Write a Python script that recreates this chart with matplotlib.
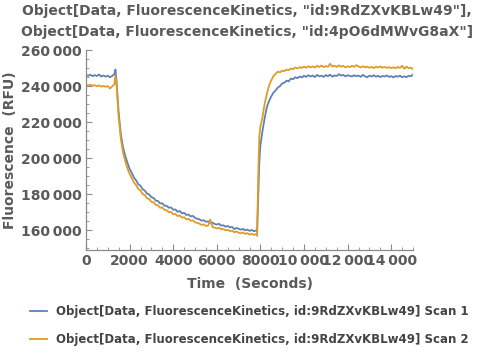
import matplotlib
matplotlib.use("Agg")
import matplotlib.pyplot as plt
from matplotlib.ticker import MultipleLocator, FuncFormatter

# time stamps (s)
time_s = (list(range(0, 1301, 100)) + [1350, 1400, 1450, 1500]
          + list(range(1600, 7801, 100)) + [7850, 7900, 7950, 8000]
          + list(range(8100, 15001, 100)))

# fluorescence in thousands of RFU
scan1_k = [
    246.0, 245.7, 246.3, 245.5, 246.1, 245.6, 246.4, 245.3, 245.9, 245.2, 245.8, 244.9, 245.6, 246.6,
    249.2, 243.0, 233.5, 225.0,
    213.0, 206.0, 201.2, 197.5, 194.0, 191.8, 189.2, 187.6, 185.4, 184.6,
    182.7, 181.9, 180.2, 179.8, 178.3, 177.9, 176.4, 176.2, 174.8, 174.9,
    173.6, 173.5, 172.4, 172.6, 171.3, 171.5, 170.2, 170.6, 169.3, 169.6,
    168.4, 168.7, 167.6, 167.9, 166.8, 166.3, 166.0, 165.2, 165.5, 164.6,
    164.9, 164.0, 164.2, 163.4, 163.1, 163.5, 162.5, 162.7, 161.9, 162.3,
    161.5, 161.8, 160.6, 161.2, 160.8, 160.2, 160.7, 159.9, 160.3, 159.6,
    160.1, 159.4, 159.8,
    159.2, 178.0, 198.0, 207.0,
    215.5, 222.5, 228.5, 231.8, 234.3, 236.4, 237.6, 239.2, 240.0, 241.4,
    241.9, 243.0, 242.6, 244.2, 243.8, 244.9, 244.4, 245.3, 244.8, 245.7,
    245.1, 246.0, 245.3, 245.9, 245.0, 246.2, 245.4, 245.8, 245.1, 246.1,
    245.5, 246.3, 245.2, 245.9, 245.6, 246.6, 245.8, 246.2, 245.4, 246.0,
    245.7, 245.3, 246.0, 245.5, 245.8, 245.1, 246.2, 245.4, 244.9, 245.8,
    245.3, 246.0, 245.2, 245.7, 245.0, 245.6, 245.3, 245.9, 245.1, 245.5,
    244.8, 245.6, 245.2, 245.8, 244.9, 245.4, 245.0, 245.7, 245.4, 246.4,
]

scan2_k = [
    240.6, 240.3, 240.8, 240.2, 240.5, 239.9, 240.4, 239.7, 240.1, 239.6, 240.0, 238.6, 239.8, 240.9,
    246.0, 240.5, 231.5, 222.5,
    210.5, 203.0, 198.3, 194.4, 191.2, 189.0, 186.4, 184.9, 182.8, 182.1,
    180.0, 179.4, 177.6, 177.3, 175.7, 175.5, 174.0, 173.8, 172.4, 172.6,
    171.2, 171.0, 169.9, 170.1, 168.8, 169.0, 167.8, 168.1, 166.9, 167.2,
    166.0, 166.3, 165.2, 165.4, 164.4, 164.0, 163.6, 162.9, 163.2, 162.3,
    162.5, 165.8, 161.8, 161.4, 160.9, 161.3, 160.5, 160.6, 159.9, 160.2,
    159.4, 159.7, 158.8, 159.3, 158.6, 158.2, 158.7, 157.9, 158.3, 157.5,
    158.0, 157.3, 157.8,
    156.8, 190.0, 212.0, 217.5,
    223.0, 230.5, 235.8, 240.5, 243.2, 245.6, 246.8, 248.0, 247.6, 248.6,
    248.3, 249.2, 248.8, 249.7, 249.4, 250.3, 249.8, 250.5, 250.1, 250.8,
    250.2, 251.0, 250.4, 250.9, 250.3, 251.2, 250.6, 251.4, 250.5, 251.1,
    250.7, 252.4, 250.9, 251.3, 250.6, 251.5, 250.8, 251.2, 250.4, 251.0,
    250.5, 251.3, 250.7, 251.6, 250.9, 250.3, 251.0, 250.4, 250.8, 250.2,
    250.6, 250.0, 250.7, 250.3, 250.9, 250.2, 250.6, 250.1, 250.5, 250.0,
    250.4, 249.9, 250.6, 250.1, 251.3, 249.6, 250.8, 249.9, 250.2, 249.5,
]

labels = [
    "Object[Data, FluorescenceKinetics, id:9RdZXvKBLw49] Scan 1",
    "Object[Data, FluorescenceKinetics, id:9RdZXvKBLw49] Scan 2",
]
title = ('Object[Data, FluorescenceKinetics, "id:9RdZXvKBLw49"],\n'
         'Object[Data, FluorescenceKinetics, "id:4pO6dMWvG8aX"]')

BLUE = "#5E81B5"
ORANGE = "#E19C24"
TXT = "#5a5a5a"
AXC = "#8a8a8a"

plt.rcParams["font.family"] = "DejaVu Sans"
plt.rcParams["font.weight"] = "bold"

fig = plt.figure(figsize=(5.0, 3.55), dpi=100)
ax = fig.add_axes([0.172, 0.296, 0.654, 0.563])

ax.plot(time_s, [v * 1000 for v in scan1_k], color=BLUE, lw=1.3, label=labels[0])
ax.plot(time_s, [v * 1000 for v in scan2_k], color=ORANGE, lw=1.3, label=labels[1])

ax.set_xlim(0, 15000)
ax.set_ylim(149000, 260000)

for s in ["top", "right"]:
    ax.spines[s].set_visible(False)
for s in ["left", "bottom"]:
    ax.spines[s].set_color(AXC)
    ax.spines[s].set_linewidth(0.9)


def fmt(v, pos):
    v = int(round(v))
    if abs(v) >= 10000:
        return f"{v:,}".replace(",", "\u2009")
    return str(v)


ax.xaxis.set_major_locator(MultipleLocator(2000))
ax.xaxis.set_minor_locator(MultipleLocator(500))
ax.yaxis.set_major_locator(MultipleLocator(20000))
ax.yaxis.set_minor_locator(MultipleLocator(5000))
ax.xaxis.set_major_formatter(FuncFormatter(fmt))
ax.yaxis.set_major_formatter(FuncFormatter(fmt))
ax.tick_params(which="both", direction="in", color=AXC, labelcolor=TXT, labelsize=10)
ax.tick_params(which="major", length=4, width=0.8)
ax.tick_params(which="minor", length=2.2, width=0.6)
ax.tick_params(axis="x", pad=3)
ax.tick_params(axis="y", pad=3)

ax.set_xlabel("Time  (Seconds)", color=TXT, fontsize=10, fontweight="bold")
ax.set_ylabel("Fluorescence  (RFU)", color=TXT, fontsize=10, fontweight="bold")
ax.xaxis.set_label_coords(0.5, -0.135)
ax.yaxis.set_label_coords(-0.212, 0.5)

fig.text(0.494, 0.988, title, ha="center", va="top", color=TXT,
         fontsize=10, fontweight="bold", linespacing=1.6)

fig.legend(loc="upper left", bbox_to_anchor=(0.05, 0.155), frameon=False,
           fontsize=8.5, handlelength=1.5, handletextpad=0.7, labelspacing=1.3,
           labelcolor="#444444", borderaxespad=0)

fig.savefig("out.png", dpi=100)
